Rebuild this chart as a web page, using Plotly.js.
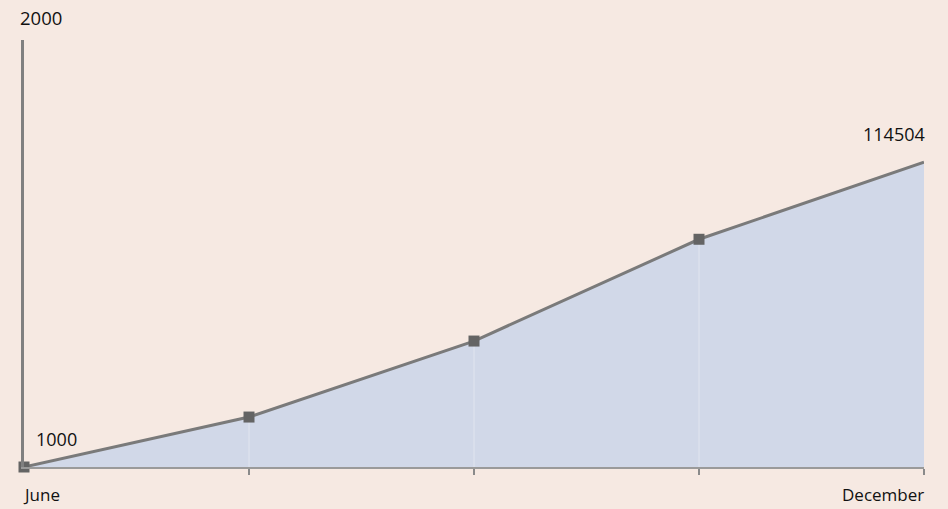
<!DOCTYPE html>
<html>
<head>
<meta charset="utf-8">
<script src="https://cdn.plot.ly/plotly-3.0.1.min.js"></script>
<style>
  html, body { margin: 0; padding: 0; background: #f6e9e2; }
  #chart { width: 948px; height: 509px; }
</style>
</head>
<body>
<div id="chart"></div>
<script>
// ---- data ----
var monthLabels = ["June", "", "", "", "December"];
var pointIndex = [0, 1, 2, 3, 4];
var values = [1000, 19600, 47900, 85800, 114504];
var yAxisTopLabel = "2000";
var yMin = 1000;
var yMax = 160000;

// drop lines built from the data
var dropX = [], dropY = [];
for (var i = 1; i < pointIndex.length - 1; i++) {
  dropX.push(pointIndex[i], pointIndex[i], null);
  dropY.push(yMin, values[i], null);
}

var traces = [
  {
    x: pointIndex, y: values, type: 'scatter', mode: 'lines',
    fill: 'tozeroy', fillcolor: '#d1d8e8',
    line: { color: 'rgba(0,0,0,0)', width: 0 },
    hoverinfo: 'skip', showlegend: false
  },
  {
    x: dropX, y: dropY, type: 'scatter', mode: 'lines',
    line: { color: '#e1e5ef', width: 1 },
    hoverinfo: 'skip', showlegend: false
  },
  {
    x: pointIndex, y: values, type: 'scatter', mode: 'lines+markers',
    line: { color: '#7a7a7a', width: 3 },
    marker: { symbol: 'square', color: '#646464', opacity: 1, line: { width: 0 },
              size: values.map(function (v, k) { return k === values.length - 1 ? 0 : 11; }) },
    cliponaxis: false, showlegend: false
  }
];

var annotations = [];
// month labels
monthLabels.forEach(function (lab, k) {
  if (!lab) return;
  annotations.push({
    x: pointIndex[k], y: 0, xref: 'x', yref: 'paper', yanchor: 'top',
    xanchor: k === 0 ? 'left' : 'right', xshift: k === 0 ? -3 : 2, yshift: -14,
    text: lab, showarrow: false, font: { family: 'Open Sans', size: 17, color: '#111' }
  });
});
// value labels
annotations.push({
  x: pointIndex[0], y: values[0], xref: 'x', yref: 'y', xanchor: 'left', yanchor: 'bottom',
  xshift: 10, yshift: 14, text: String(values[0]), showarrow: false,
  font: { family: 'Open Sans', size: 18, color: '#111' }
});
var last = values.length - 1;
annotations.push({
  x: pointIndex[last], y: values[last], xref: 'x', yref: 'y', xanchor: 'right', yanchor: 'bottom',
  xshift: 3, yshift: 14, text: String(values[last]), showarrow: false,
  font: { family: 'Open Sans', size: 18, color: '#111' }
});
// y axis top label
annotations.push({
  x: 0, y: 1, xref: 'paper', yref: 'paper', xanchor: 'left', yanchor: 'bottom',
  xshift: -6, yshift: 8, text: yAxisTopLabel, showarrow: false,
  font: { family: 'Open Sans', size: 18.5, color: '#111' }
});

var layout = {
  width: 948, height: 509,
  margin: { l: 24, r: 24, t: 40, b: 42 },
  paper_bgcolor: '#f6e9e2', plot_bgcolor: 'rgba(0,0,0,0)',
  showlegend: false,
  xaxis: {
    range: [pointIndex[0], pointIndex[pointIndex.length - 1]],
    tickvals: pointIndex.slice(1), ticktext: pointIndex.slice(1).map(function () { return ''; }),
    ticks: 'outside', ticklen: 6, tickwidth: 2, tickcolor: '#8a8a8a',
    showgrid: false, zeroline: false,
    showline: true, linecolor: '#9a9a9a', linewidth: 2
  },
  yaxis: {
    range: [yMin, yMax],
    showticklabels: false, ticks: '', showgrid: false, zeroline: false,
    showline: true, linecolor: '#808080', linewidth: 3
  },
  annotations: annotations
};

Plotly.newPlot('chart', traces, layout, { displayModeBar: false, staticPlot: true });
</script>
</body>
</html>
